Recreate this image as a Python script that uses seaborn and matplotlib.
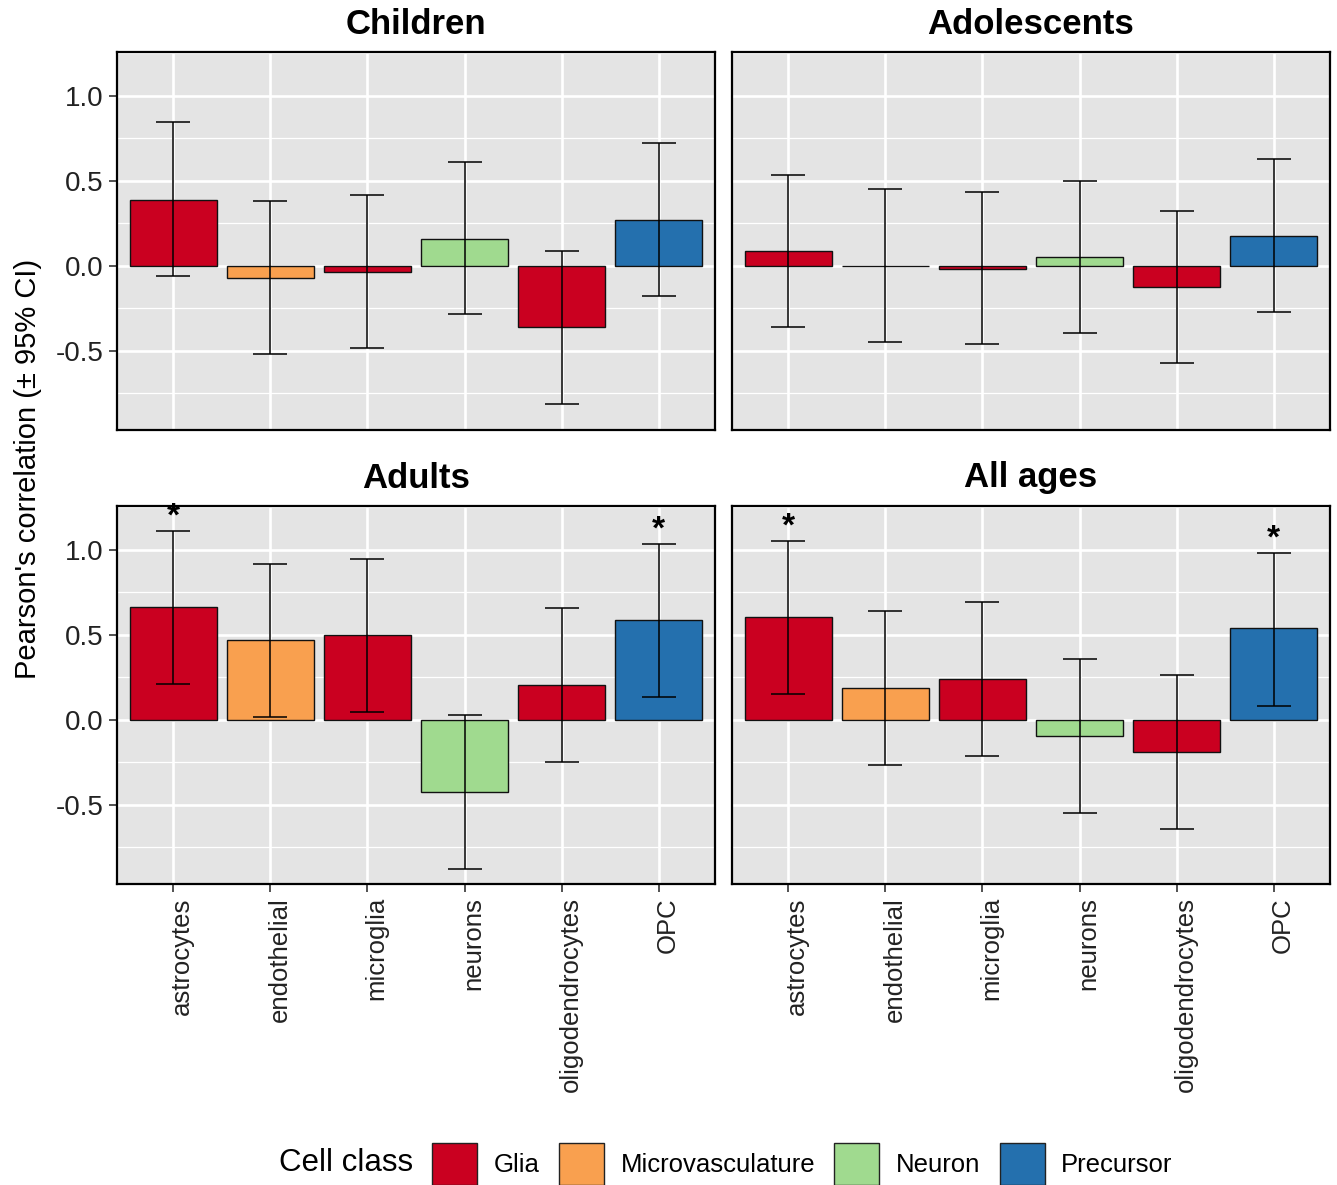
import numpy as np
import pandas as pd
import matplotlib
matplotlib.use("Agg")
import matplotlib.pyplot as plt
import seaborn as sns
from matplotlib.patches import Patch
from matplotlib.ticker import MultipleLocator
from matplotlib.transforms import ScaledTranslation

# --- data ---
cell_types = ["astrocytes", "endothelial", "microglia", "neurons", "oligodendrocytes", "OPC"]
cell_class = ["Glia", "Microvasculature", "Glia", "Neuron", "Glia", "Precursor"]
class_order = ["Glia", "Microvasculature", "Neuron", "Precursor"]
class_colors = ["#CA0020", "#F9A04F", "#A0DA8F", "#2470AE"]
age_groups = ["Children", "Adolescents", "Adults", "All ages"]

children_r = [0.39, -0.07, -0.035, 0.16, -0.36, 0.27]
children_lo = [-0.06, -0.52, -0.48, -0.285, -0.81, -0.175]
children_hi = [0.845, 0.38, 0.415, 0.61, 0.085, 0.72]

adolescents_r = [0.085, 0.0, -0.018, 0.05, -0.123, 0.175]
adolescents_lo = [-0.36, -0.445, -0.46, -0.395, -0.57, -0.27]
adolescents_hi = [0.533, 0.45, 0.435, 0.5, 0.322, 0.627]

adults_r = [0.662, 0.468, 0.497, -0.426, 0.206, 0.587]
adults_lo = [0.21, 0.016, 0.045, -0.878, -0.246, 0.136]
adults_hi = [1.11, 0.917, 0.945, 0.028, 0.66, 1.035]

allages_r = [0.605, 0.189, 0.24, -0.094, -0.187, 0.538]
allages_lo = [0.155, -0.265, -0.212, -0.546, -0.639, 0.083]
allages_hi = [1.053, 0.64, 0.694, 0.36, 0.267, 0.984]

children_sig = [False] * 6
adolescents_sig = [False] * 6
adults_sig = [True, False, False, False, False, True]
allages_sig = [True, False, False, False, False, True]

groups = {
    "Children": (children_r, children_lo, children_hi, children_sig),
    "Adolescents": (adolescents_r, adolescents_lo, adolescents_hi, adolescents_sig),
    "Adults": (adults_r, adults_lo, adults_hi, adults_sig),
    "All ages": (allages_r, allages_lo, allages_hi, allages_sig),
}

rows = []
for g in age_groups:
    r, lo, hi, sig = groups[g]
    for i, c in enumerate(cell_types):
        rows.append({"group": g, "cell": c, "cls": cell_class[i],
                     "r": r[i], "lo": lo[i], "hi": hi[i], "sig": sig[i]})
df = pd.DataFrame(rows)

palette = dict(zip(class_order, class_colors))

plt.rcParams["font.family"] = ["Liberation Sans", "DejaVu Sans"]

W, H = 1337, 1185
fig = plt.figure(figsize=(W / 100, H / 100), dpi=100)

# panel boxes in pixels: (left, top, right, bottom)
boxes = [(117, 52, 715, 430), (732, 52, 1330, 430),
         (117, 506, 715, 884), (732, 506, 1330, 884)]

for k, g in enumerate(age_groups):
    l, t, r_, b = boxes[k]
    ax = fig.add_axes([l / W, 1 - b / H, (r_ - l) / W, (b - t) / H])
    sub = df[df["group"] == g]
    ax.set_facecolor("#E4E4E4")
    ax.set_axisbelow(True)
    sns.barplot(data=sub, x="cell", y="r", hue="cls", order=cell_types,
                hue_order=class_order, palette=palette, dodge=False, width=0.9,
                saturation=1, edgecolor="#111111", linewidth=1.0, errorbar=None,
                legend=False, ax=ax)
    xpos = ax.get_xticks()
    r = sub["r"].to_numpy()
    ax.errorbar(xpos, r, yerr=[r - sub["lo"].to_numpy(), sub["hi"].to_numpy() - r],
                fmt="none", ecolor="black", elinewidth=1.1, capsize=12, capthick=1.1, zorder=5)
    for x, hi, s in zip(xpos, sub["hi"], sub["sig"]):
        if s:
            ax.text(x, hi - 0.01, "*", ha="center", va="bottom", fontsize=24,
                    fontweight="bold", zorder=6)

    ax.set_xlim(-0.58, 5.58)
    ax.set_ylim(-0.965, 1.258)
    ax.yaxis.set_major_locator(MultipleLocator(0.5))
    ax.yaxis.set_minor_locator(MultipleLocator(0.25))
    ax.grid(which="major", color="white", linewidth=1.9)
    ax.grid(which="minor", axis="y", color="white", linewidth=0.9)
    ax.tick_params(which="minor", length=0)
    for sp in ax.spines.values():
        sp.set_color("black")
        sp.set_linewidth(1.6)
    ax.set_xlabel("")
    ax.set_ylabel("")
    ax.tick_params(axis="both", which="major", length=6, width=1.2, color="#333333",
                   labelcolor="#222222")
    ax.set_yticks([-0.5, 0.0, 0.5, 1.0])
    ax.set_yticklabels(["-0.5", "0.0", "0.5", "1.0"], fontsize=20)

    if k in (1, 3):
        ax.tick_params(axis="y", length=0, labelleft=False)
    if k in (0, 1):
        ax.tick_params(axis="x", length=0, labelbottom=False)
    else:
        ax.set_xticks(xpos)
        ax.set_xticklabels(cell_types, rotation=90, fontsize=18.5, ha="center", va="top")
        off = ScaledTranslation(9 / 100, 0, fig.dpi_scale_trans)
        for lab in ax.get_xticklabels():
            lab.set_transform(lab.get_transform() + off)

    ax.text(0.5, 1 + 28 / 378, g, transform=ax.transAxes, ha="center", va="center",
            fontsize=25, fontweight="bold")

fig.text(28 / W, 1 - 469 / H, "Pearson's correlation (\u00b1 95% CI)", rotation=90,
         ha="center", va="center", fontsize=21)

# legend
fig.text(279 / W, 1 - 1163 / H, "Cell class", ha="left", va="center", fontsize=22.5)
handles = [Patch(facecolor=c, edgecolor="#222222", linewidth=1.0) for c in class_colors]
fig.legend(handles, class_order, loc="center left", bbox_to_anchor=(432 / W, 1 - 1164 / H),
           ncol=4, frameon=False, fontsize=18.5, handlelength=1.75, handleheight=2.1,
           handletextpad=0.65, columnspacing=0.75, borderaxespad=0, borderpad=0)

fig.savefig("out.png", dpi=100)
